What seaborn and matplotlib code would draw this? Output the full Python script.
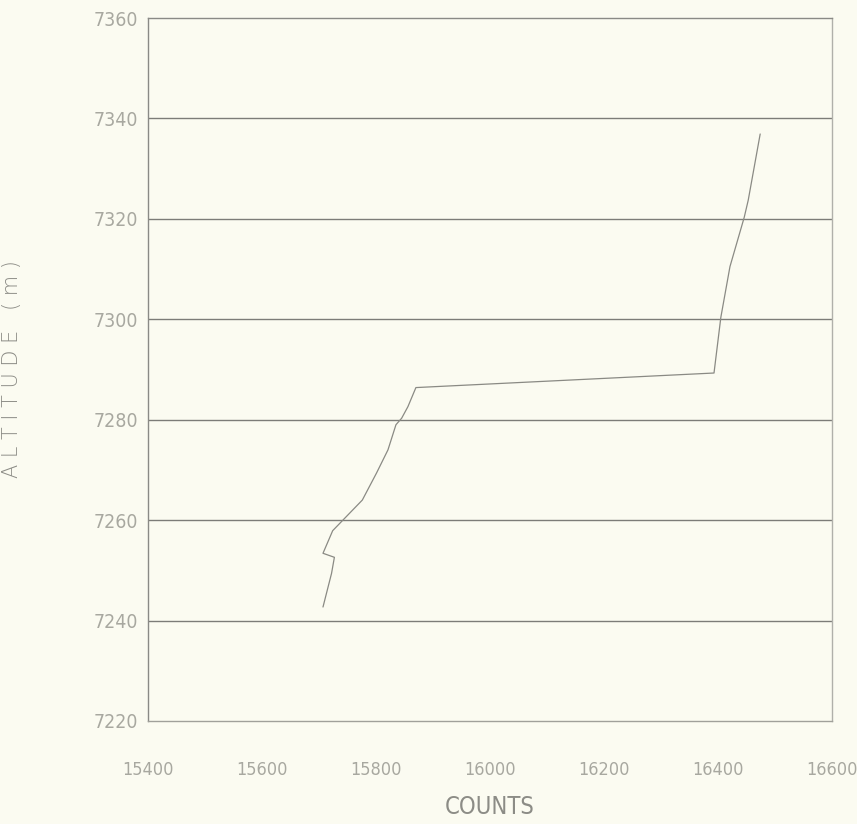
import matplotlib
matplotlib.use("Agg")
import matplotlib.pyplot as plt
import seaborn as sns
import pandas as pd

# ----------------------------
# Daten
# ----------------------------
counts = [15707, 15722, 15727, 15707, 15724, 15776, 15801, 15821, 15835,
          15845, 15856, 15870, 16393, 16405, 16421, 16446, 16453, 16474]
altitude = [7242.7, 7249.4, 7252.6, 7253.4, 7257.9, 7264.0, 7269.4, 7274.0, 7279.0,
            7280.3, 7282.6, 7286.4, 7289.3, 7300.4, 7310.5, 7320.3, 7323.7, 7336.9]

x_ticks = [15400, 15600, 15800, 16000, 16200, 16400, 16600]
y_ticks = [7220, 7240, 7260, 7280, 7300, 7320, 7340, 7360]

bg = "#fbfbf1"
tick_col = "#a8a8a0"

sns.set_style("white")
plt.rcParams["font.family"] = ["DejaVu Sans"]
plt.rcParams["font.stretch"] = "condensed"

df = pd.DataFrame({"Counts": counts, "Altitude": altitude})

fig = plt.figure(figsize=(8.57, 8.24), dpi=100, facecolor=bg)
ax = fig.add_axes([148 / 857, 1 - 721 / 824, 684 / 857, 703 / 824])
ax.set_facecolor(bg)

sns.lineplot(data=df, x="Counts", y="Altitude", sort=False, estimator=None,
             color="#8a8a84", linewidth=0.9, ax=ax)

ax.set_xlim(15400, 16600)
ax.set_ylim(7220, 7360)
ax.set_xticks(x_ticks)
ax.set_yticks(y_ticks)
ax.set_xticklabels([str(t) for t in x_ticks], fontsize=13, color=tick_col,
                   fontstretch="condensed", fontweight="light")
ax.set_yticklabels([str(t) for t in y_ticks], fontsize=14, color=tick_col,
                   fontstretch="condensed", fontweight="light")
ax.tick_params(length=0, pad=29, axis="x")
ax.tick_params(length=0, pad=7, axis="y")

# horizontale Gitterlinien
for y in y_ticks[1:-1]:
    ax.axhline(y, color="#7c7c78", linewidth=1.0, zorder=0)

for side in ["left", "right", "top", "bottom"]:
    ax.spines[side].set_color("#8a8a86")
    ax.spines[side].set_linewidth(1.0)
ax.spines["right"].set_color("#b0b0aa")
ax.spines["bottom"].set_color("#a0a09a")

ax.set_xlabel("COUNTS", fontsize=17, color="#8c8c86", fontstretch="condensed",
              fontweight="light")
ax.xaxis.set_label_coords(0.5, -0.105)
ax.set_ylabel("A L T I T U D E   ( m )", fontsize=15, color="#8c8c86",
              fontweight="light", fontstretch="normal")
ax.yaxis.set_label_coords(-0.184, 0.5)

fig.savefig("out.png", dpi=100, facecolor=bg)
